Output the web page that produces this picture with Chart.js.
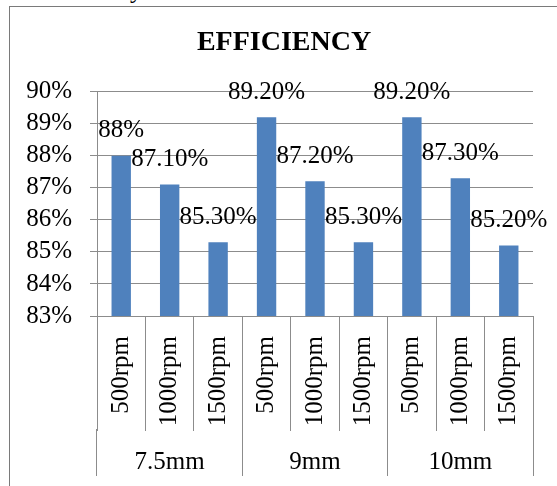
<!DOCTYPE html>
<html>
<head>
<meta charset="utf-8">
<script src="https://cdn.jsdelivr.net/npm/chart.js@4/dist/chart.umd.min.js"></script>
<style>
  html, body { margin: 0; padding: 0; background: #fff; overflow: hidden; }
  #wrap { position: relative; width: 557px; height: 486px; }
  #frame { position: absolute; left: 9px; top: 6px; width: 600px; height: 600px;
           border-left: 1px solid #7a7a7a; border-top: 1px solid #7a7a7a; box-sizing: border-box; }
  #stray { position: absolute; left: 130px; top: -23px; font: 25px/25px 'Liberation Serif', 'Times New Roman', serif; color: #000; }
  canvas { position: absolute; left: 0; top: 0; }
</style>
</head>
<body>
<div id="wrap">
  <div id="stray">y</div>
  <div id="frame"></div>
  <canvas id="c" width="557" height="486"></canvas>
</div>
<script>
const categories = ['500rpm', '1000rpm', '1500rpm', '500rpm', '1000rpm', '1500rpm', '500rpm', '1000rpm', '1500rpm'];
const groups = ['7.5mm', '9mm', '10mm'];
const efficiency = [88, 87.1, 85.3, 89.2, 87.2, 85.3, 89.2, 87.3, 85.2];
const yMin = 83, yMax = 90, yStep = 1;

const SERIF = "'Liberation Serif', 'Times New Roman', serif";
const GRID = '#8c8c8c';

function fmtLabel(v) {
  return Number.isInteger(v) ? v + '%' : v.toFixed(2) + '%';
}

const dataLabels = {
  id: 'dataLabels',
  afterDatasetsDraw(chart) {
    const ctx = chart.ctx;
    const meta = chart.getDatasetMeta(0);
    ctx.save();
    ctx.font = '25px ' + SERIF;
    ctx.fillStyle = '#000';
    ctx.textAlign = 'center';
    ctx.textBaseline = 'middle';
    meta.data.forEach((bar, i) => {
      ctx.fillText(fmtLabel(chart.data.datasets[0].data[i]), bar.x, bar.y - 25);
    });
    ctx.restore();
  }
};

new Chart(document.getElementById('c'), {
  type: 'bar',
  data: {
    labels: categories,
    datasets: [{
      data: efficiency,
      backgroundColor: '#4F81BD',
      borderWidth: 0,
      barPercentage: 0.4,
      categoryPercentage: 1.0
    }]
  },
  options: {
    responsive: false,
    animation: false,
    layout: { padding: { left: 11, right: 0, top: 0, bottom: 10 } },
    plugins: {
      legend: { display: false },
      tooltip: { enabled: false },
      title: {
        display: true,
        text: 'EFFICIENCY',
        color: '#000',
        font: { family: SERIF, size: 28, weight: 'bold' },
        padding: { top: 26, bottom: 32 }
      }
    },
    scales: {
      y: {
        min: yMin, max: yMax,
        ticks: {
          stepSize: yStep,
          autoSkip: false,
          color: '#000',
          font: { family: SERIF, size: 25 },
          padding: 18,
          callback: v => v + '%'
        },
        grid: { color: GRID, tickLength: 7, lineWidth: 1 },
        border: { color: GRID },
        afterFit: s => { s.width = 86; }
      },
      y2: {
        position: 'right',
        min: yMin, max: yMax,
        ticks: { display: false },
        grid: { display: false },
        border: { display: false },
        afterFit: s => { s.width = 24; }
      },
      x: {
        weight: 0,
        offset: true,
        ticks: {
          color: '#000',
          font: { family: SERIF, size: 25 },
          minRotation: 90, maxRotation: 90,
          autoSkip: false,
          padding: -95
        },
        grid: { offset: true, drawOnChartArea: false, color: GRID, tickLength: 115 },
        border: { color: GRID },
        afterFit: s => { s.height = 113; }
      },
      x2: {
        type: 'category',
        position: 'bottom',
        weight: 1,
        labels: groups,
        offset: true,
        ticks: {
          color: '#000',
          font: { family: SERIF, size: 25 },
          maxRotation: 0, minRotation: 0,
          padding: -29
        },
        grid: { offset: true, drawOnChartArea: false, color: GRID, tickLength: 47 },
        border: { display: false },
        afterFit: s => { s.height = 47; }
      }
    }
  },
  plugins: [dataLabels]
});
</script>
</body>
</html>
